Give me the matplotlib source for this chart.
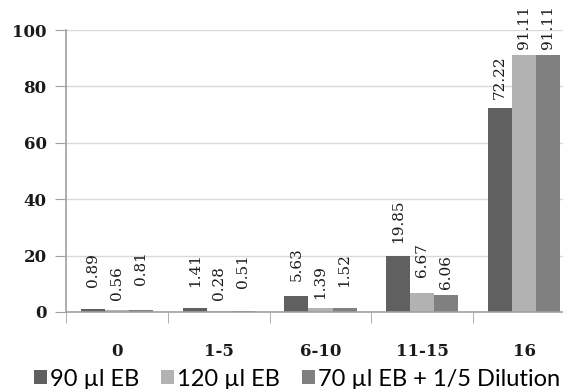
import numpy as np
import matplotlib
matplotlib.use('Agg')
import matplotlib.pyplot as plt
from matplotlib.ticker import FixedLocator

categories = ['0', '1-5', '6-10', '11-15', '16']
series_names = ['90 \u00b5l EB', '120 \u00b5l EB', '70 \u00b5l EB + 1/5 Dilution']
eb90 = [0.89, 1.41, 5.63, 19.85, 72.22]
eb120 = [0.56, 0.28, 1.39, 6.67, 91.11]
eb70_dil = [0.81, 0.51, 1.52, 6.06, 91.11]
yticks = [0, 20, 40, 60, 80, 100]

colors = ['#606060', '#b2b2b2', '#808080']
# gap between bar top and label, in pixels (labels are staggered to avoid overlap)
label_lift = [[22, 21, 15, 13, 9],
              [10, 11, 9, 16, 6],
              [25, 23, 21, 6, 6]]

fig = plt.figure(figsize=(5.63, 3.89), dpi=100)
ax = fig.add_axes([66/563, 77/389, 509/563, 282/389])

x = np.arange(len(categories))
width = 0.236
series = [eb90, eb120, eb70_dil]

for i, vals in enumerate(series):
    xpos = x + (i - 1)*width
    ax.bar(xpos, vals, width=width, color=colors[i], label=series_names[i], zorder=2)
    for j, v in enumerate(vals):
        ax.annotate('%.2f' % v, (xpos[j], v), xytext=(0, label_lift[i][j]*0.72),
                    textcoords='offset points', rotation=90, ha='center', va='bottom',
                    family='DejaVu Serif', fontsize=11, color='#1a1a1a')

ax.set_xlim(-0.5, len(categories) - 0.5)
ax.set_ylim(0, 100)
ax.set_yticks(yticks)
ax.yaxis.grid(True, color='#d9d9d9', linewidth=1, zorder=0)
ax.set_axisbelow(True)

ax.set_xticks(x)
ax.set_xticklabels(categories)
ax.xaxis.set_minor_locator(FixedLocator(np.arange(-0.5, len(categories) + 0.5, 1)))
ax.tick_params(axis='x', which='major', length=0, pad=22)
ax.tick_params(axis='x', which='minor', length=8, color='#a0a0a0', direction='out')
ax.tick_params(axis='y', length=8, color='#a0a0a0', direction='out', pad=6)
for lab in ax.get_xticklabels() + ax.get_yticklabels():
    lab.set_family('DejaVu Serif')
    lab.set_fontweight('bold')
    lab.set_fontsize(12)
    lab.set_color('#1a1a1a')

for s in ['top', 'right']:
    ax.spines[s].set_visible(False)
for s in ['left', 'bottom']:
    ax.spines[s].set_color('#a0a0a0')
    ax.spines[s].set_linewidth(1.2)

fig.legend(loc='center', bbox_to_anchor=(297/563, 1 - 379/389), ncol=3, frameon=False,
           prop={'family': 'Lato', 'size': 17}, handlelength=0.55, handleheight=0.55,
           handletextpad=0.15, columnspacing=0.9, borderaxespad=0)

fig.savefig('out.png', dpi=100)
